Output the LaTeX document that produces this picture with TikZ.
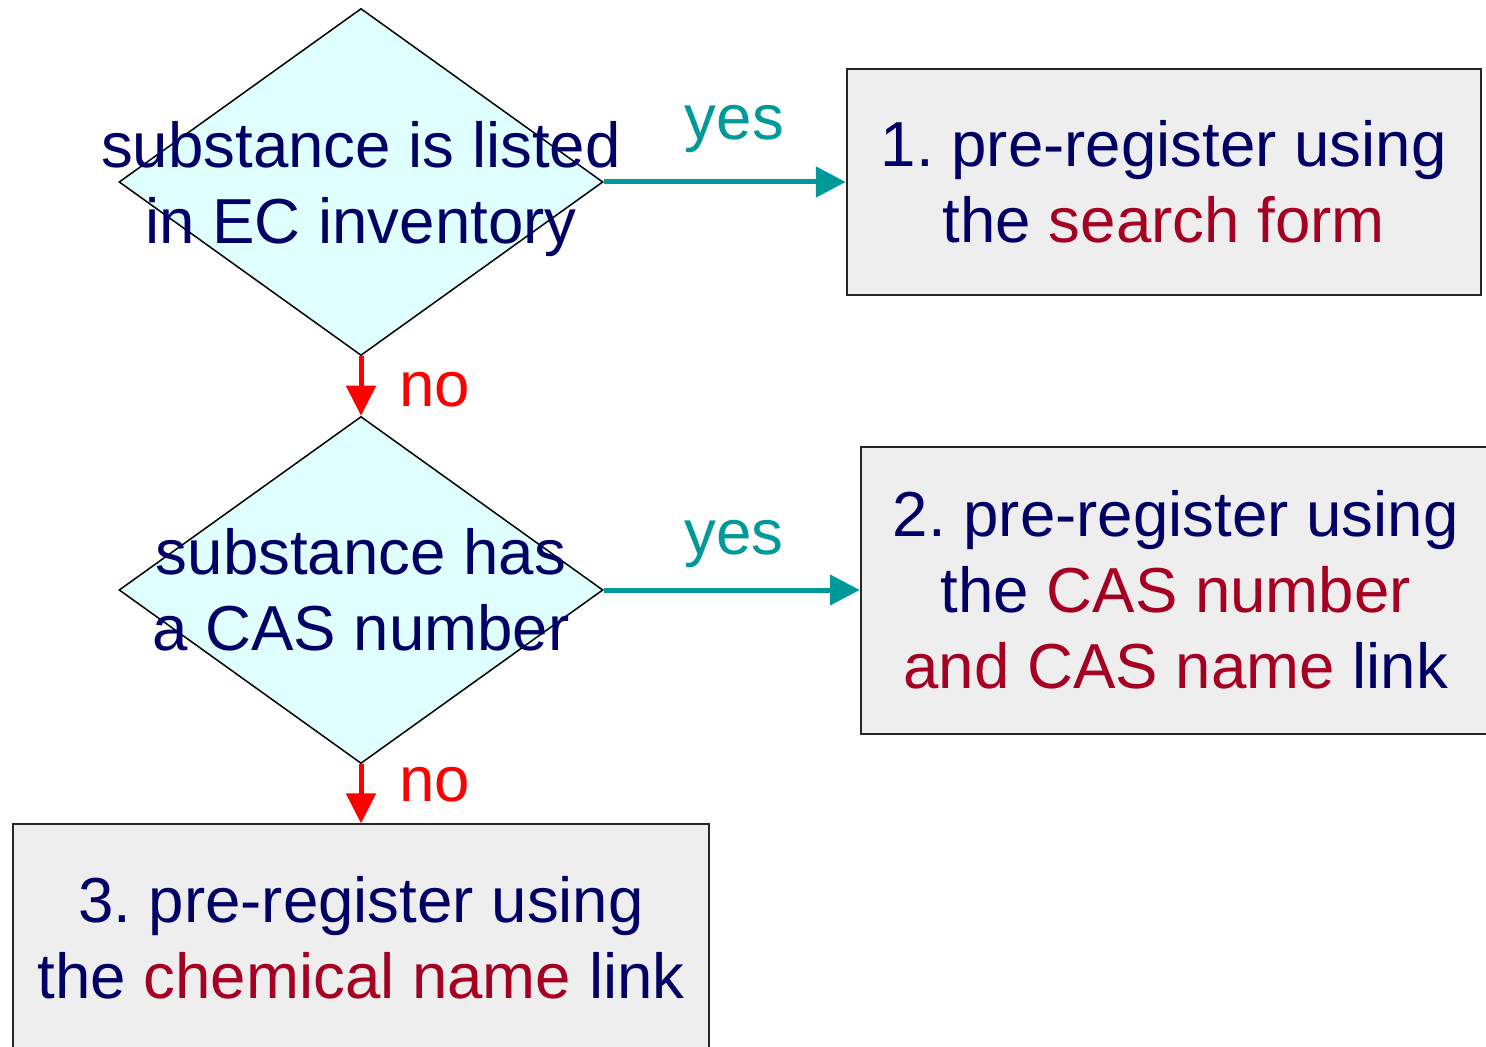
\documentclass[tikz,border=0pt]{standalone}
\usepackage{fontspec}
\setmainfont{Liberation Sans}
\usetikzlibrary{shapes.geometric}
\usetikzlibrary{positioning}
\usetikzlibrary{arrows.meta}
\frenchspacing
\definecolor{navy}{RGB}{0,0,102}
\definecolor{linkred}{RGB}{165,0,33}
\definecolor{yesteal}{RGB}{0,153,153}
\definecolor{decfill}{RGB}{224,255,255}
\definecolor{boxfill}{RGB}{238,238,238}
\tikzset{x=0.5pt, y=-0.5pt, % One unit is one pixel of the layout
every node/.style={font=\fontsize{31.8pt}{38pt}\selectfont, text=navy},
decision/.style={ % The question diamonds
diamond, draw=black, line width=0.75pt, fill=decfill,
minimum width=242pt, minimum height=173.5pt, inner sep=0pt},
qtext/.style={align=center, inner sep=0pt},
action/.style={ % The outcome boxes
rectangle, draw=black!85, line width=1pt, fill=boxfill, align=center},
yesarrow/.style={draw=yesteal, line width=2.5pt, -{Triangle[length=15pt, width=15pt]}},
noarrow/.style={draw=red, line width=2.5pt, -{Triangle[length=15pt, width=14.5pt]}},
yeslabel/.style={text=yesteal, inner sep=0pt},
nolabel/.style={text=red, inner sep=0pt}}

\begin{document}
\begin{tikzpicture}
					\useasboundingbox (0,0) rectangle (1486,1047);

					\node[decision] (d1) at (361,182) {};
					\node[decision, below=29.75pt of d1] (d2) {};
					\node[qtext] (q1) at ([yshift=-3.5pt]d1.center) {substance is listed\\in EC inventory};
					\node[qtext] (q2) at (d2.center) {substance has\\a CAS number};

					\node[action, right=121pt of d1, minimum width=317pt, minimum height=113pt] (box1)
						{1. pre-register using\\the \textcolor{linkred}{search form}};
					\node[action, right=128pt of d2, minimum width=315pt, minimum height=143.5pt] (box2)
						{2. pre-register using\\the \textcolor{linkred}{CAS number}\\\textcolor{linkred}{and CAS name} link};
					\node[action, below=29.6pt of d2, minimum width=348pt, minimum height=113pt] (box3)
						{3. pre-register using\\the \textcolor{linkred}{chemical name} link};

					\draw[yesarrow] (d1.east) -- node[yeslabel, above=13.5pt, pos=0.54] (yes1) {yes} (box1.west);
					\draw[noarrow] (d1.south) -- node[nolabel, right=18pt, pos=0.57] (no1) {no} (d2.north);

					\draw[yesarrow] (d2.east) -- node[yeslabel, above=9.7pt, pos=0.51] (yes2) {yes} (box2.west);
					\draw[noarrow] (d2.south) -- node[nolabel, right=18pt, pos=0.34] (no2) {no} (box3.north);
				\end{tikzpicture}
\end{document}
